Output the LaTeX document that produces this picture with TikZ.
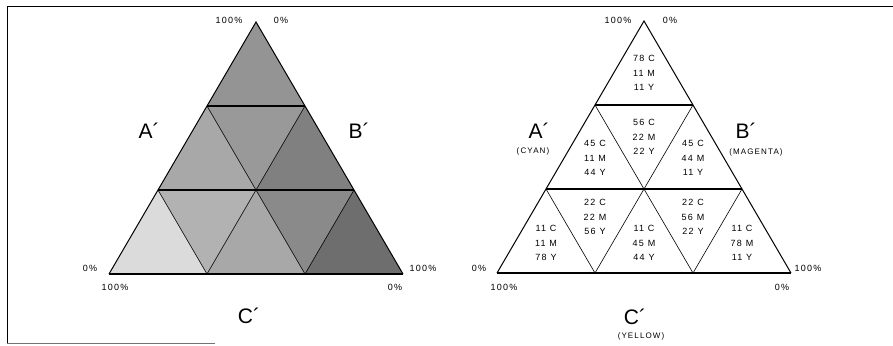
\documentclass[tikz,border=0pt]{standalone}
\usepackage{fontspec}
\setmainfont{Liberation Sans}
\newfontfamily\smallfont[LetterSpace=14]{Liberation Sans}
\usetikzlibrary{calc}

\begin{document}
\begin{tikzpicture}[
        x=1pt, y=-1pt,
        pct/.style={font=\smallfont\fontsize{9}{10}\selectfont, inner sep=0pt},
        corner/.style={font=\fontsize{21}{24}\selectfont, inner sep=0pt},
        ink/.style={font=\smallfont\fontsize{8}{9}\selectfont, inner sep=0pt},
        cell/.style={font=\smallfont\fontsize{9}{14.5}\selectfont, align=center, inner sep=0pt},
        edge/.style={line width=1pt},
        rowline/.style={line width=1.4pt},
        diag/.style={line width=0.6pt}
    ]
        \useasboundingbox (0,0) rectangle (893,345);
        % frame
        \draw[line width=0.9pt] (893,6) -- (7,6) -- (7,343);
        \draw[black!55, line width=0.8pt] (7,343) -- (215,343);

        % grid points of both triangles
        \foreach \s/\ax/\ay in {L/256/22, R/644/21}{
            \foreach \i in {0,...,3}{
                \foreach \j in {0,...,\i}{
                    \coordinate (\s-\i-\j) at ({\ax+(2*\j-\i)*49},{\ay+\i*84});
                }
            }
        }

        % grey shades of the left triangle
        \fill[black!42] (L-0-0) -- (L-1-0) -- (L-1-1) -- cycle;
        \fill[black!34] (L-1-0) -- (L-2-0) -- (L-2-1) -- cycle;
        \fill[black!40] (L-1-0) -- (L-1-1) -- (L-2-1) -- cycle;
        \fill[black!50] (L-1-1) -- (L-2-1) -- (L-2-2) -- cycle;
        \fill[black!14] (L-2-0) -- (L-3-0) -- (L-3-1) -- cycle;
        \fill[black!30] (L-2-0) -- (L-2-1) -- (L-3-1) -- cycle;
        \fill[black!34] (L-2-1) -- (L-3-1) -- (L-3-2) -- cycle;
        \fill[black!46] (L-2-1) -- (L-2-2) -- (L-3-2) -- cycle;
        \fill[black!57] (L-2-2) -- (L-3-2) -- (L-3-3) -- cycle;

        \foreach \s in {L,R}{
            \draw[diag] (\s-1-0) -- (\s-2-1) -- (\s-1-1);
            \draw[diag] (\s-2-0) -- (\s-3-1) -- (\s-2-1) -- (\s-3-2) -- (\s-2-2);
            \draw[rowline] (\s-1-0) -- (\s-1-1);
            \draw[rowline] (\s-2-0) -- (\s-2-2);
            \draw[rowline] (\s-3-0) -- (\s-3-3);
            \draw[edge, line join=miter] (\s-3-0) -- (\s-0-0) -- (\s-3-3);
        }

        % left labels
        \node[pct] (lt100) at (229,20) {100\%};
        \node[pct] (lt0) at (281,20) {0\%};
        \node[pct] (ll0) at (90,268) {0\%};
        \node[pct] (ll100) at (115,287) {100\%};
        \node[pct] (lr100) at (423,268) {100\%};
        \node[pct] (lr0) at (395,287) {0\%};
        \node[corner] (la) at (149,131) {A´};
        \node[corner] (lb) at (359,131) {B´};
        \node[corner] (lc) at (249,316) {C´};

        % right labels
        \node[pct] (rt100) at (618,20) {100\%};
        \node[pct] (rt0) at (670,20) {0\%};
        \node[pct] (rl0) at (479,268) {0\%};
        \node[pct] (rl100) at (504,287) {100\%};
        \node[pct] (rr100) at (808,268) {100\%};
        \node[pct] (rr0) at (782,287) {0\%};
        \node[corner] (ra) at (539,131) {A´};
        \node[ink] (cyan) at (533,151) {(CYAN)};
        \node[corner] (rb) at (746,131) {B´};
        \node[ink] (magenta) at (756,152) {(MAGENTA)};
        \node[corner] (rc) at (635,317) {C´};
        \node[ink] (yellow) at (641,336) {(YELLOW)};

        % mixtures
        \node[cell, yshift=4pt] (m00) at (barycentric cs:R-0-0=1,R-1-0=1,R-1-1=1) {78 C\\11 M\\11 Y};
        \node[cell, yshift=3pt] (m10) at (barycentric cs:R-1-0=1,R-2-0=1,R-2-1=1) {45 C\\11 M\\44 Y};
        \node[cell, yshift=-4pt] (m11) at (barycentric cs:R-1-0=1,R-1-1=1,R-2-1=1) {56 C\\22 M\\22 Y};
        \node[cell, yshift=3pt] (m12) at (barycentric cs:R-1-1=1,R-2-1=1,R-2-2=1) {45 C\\44 M\\11 Y};
        \node[cell, yshift=2pt] (m20) at (barycentric cs:R-2-0=1,R-3-0=1,R-3-1=1) {11 C\\11 M\\78 Y};
        \node[cell] (m21) at (barycentric cs:R-2-0=1,R-2-1=1,R-3-1=1) {22 C\\22 M\\56 Y};
        \node[cell, yshift=2pt] (m22) at (barycentric cs:R-2-1=1,R-3-1=1,R-3-2=1) {11 C\\45 M\\44 Y};
        \node[cell] (m23) at (barycentric cs:R-2-1=1,R-2-2=1,R-3-2=1) {22 C\\56 M\\22 Y};
        \node[cell, yshift=2pt] (m24) at (barycentric cs:R-2-2=1,R-3-2=1,R-3-3=1) {11 C\\78 M\\11 Y};
    \end{tikzpicture}
\end{document}
